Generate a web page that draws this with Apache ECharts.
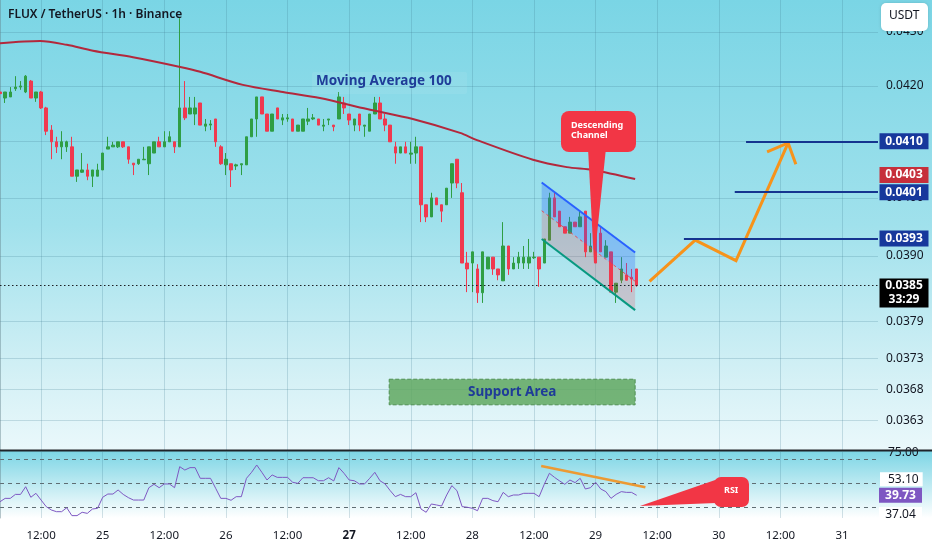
<!DOCTYPE html>
<html><head><meta charset="utf-8">
<script src="https://cdn.jsdelivr.net/npm/echarts@6/dist/echarts.min.js"></script>
<style>html,body{margin:0;padding:0;background:#fff}#c{width:932px;height:550px}</style>
</head><body><div id="c"></div><script>
// ---------- data ----------
const opens  = [.04189,.04178,.04180,.04195,.04198,.04189,.04209,.04178,.04189,.04160,.04120,.04099,.04090,.04090,.04090,.04038,.04045,.04049,.04038,.04038,.04049,.04086,.04090,.04090,.04099,.04090,.04061,.04060,.04067,.04060,.04079,.04099,.04090,.04099,.04099,.04090,.04160,.04149,.04149,.04169,.04127,.04129,.04140,.04090,.04058,.04060,.04056,.04058,.04058,.04108,.04140,.04180,.04149,.04118,.04160,.04138,.04140,.04140,.04118,.04118,.04136,.04140,.04140,.04127,.04138,.04129,.04140,.04169,.04149,.04129,.04149,.04127,.04118,.04149,.04169,.04140,.04129,.04090,.04079,.04090,.04077,.04079,.04090,.03988,.03967,.04000,.03988,.03988,.04026,.04068,.04009,.03888,.03888,.03878,.03838,.03878,.03898,.03878,.03858,.03917,.03878,.03888,.03888,.03888,.03897,.03898,.03888,.03927,.04000,.03977,.03950,.03939,.03958,.03950,.03977,.03907,.03950,.03939,.03898,.03907,.03839,.03859,.03868,.03864,.03878];
const closes = [.04186,.04189,.04189,.04198,.04200,.04218,.04178,.04189,.04160,.04118,.04099,.04090,.04099,.04099,.04038,.04049,.04049,.04038,.04049,.04049,.04079,.04090,.04093,.04099,.04090,.04068,.04058,.04068,.04068,.04090,.04099,.04090,.04099,.04108,.04090,.04160,.04142,.04160,.04160,.04129,.04131,.04131,.04099,.04060,.04068,.04049,.04058,.04060,.04108,.04140,.04180,.04149,.04118,.04149,.04140,.04142,.04142,.04118,.04129,.04140,.04140,.04142,.04129,.04129,.04140,.04126,.04180,.04160,.04138,.04140,.04129,.04129,.04149,.04169,.04140,.04129,.04099,.04079,.04090,.04079,.04079,.04090,.03988,.03967,.04000,.03988,.03977,.04017,.04060,.04026,.03888,.03878,.03907,.03838,.03907,.03898,.03878,.03868,.03917,.03878,.03888,.03898,.03898,.03898,.03898,.03878,.03929,.04000,.03967,.03950,.03939,.03958,.03950,.03967,.03907,.03917,.03888,.03907,.03917,.03839,.03854,.03878,.03859,.03861,.03850];
const lows   = [.04178,.04169,.04180,.04191,.04193,.04187,.04178,.04171,.04158,.04111,.04068,.04079,.04068,.04081,.04038,.04028,.04044,.04031,.04019,.04038,.04049,.04086,.04090,.04088,.04088,.04060,.04040,.04058,.04067,.04040,.04079,.04090,.04090,.04099,.04079,.04090,.04138,.04149,.04129,.04129,.04118,.04120,.04090,.04058,.04040,.04019,.04049,.04040,.04058,.04108,.04108,.04149,.04118,.04118,.04140,.04129,.04135,.04118,.04118,.04118,.04129,.04138,.04129,.04118,.04129,.04118,.04140,.04149,.04129,.04118,.04118,.04108,.04118,.04149,.04140,.04118,.04099,.04060,.04079,.04079,.04060,.04060,.03958,.03958,.03967,.03988,.03958,.03988,.04000,.04017,.03888,.03839,.03839,.03821,.03821,.03878,.03868,.03859,.03858,.03868,.03878,.03878,.03878,.03878,.03895,.03848,.03888,.03927,.03967,.03950,.03939,.03939,.03950,.03950,.03898,.03907,.03888,.03907,.03898,.03839,.03821,.03854,.03859,.03839,.03848];
const highs  = [.04189,.04189,.04198,.04218,.04209,.04220,.04211,.04189,.04191,.04162,.04129,.04108,.04118,.04101,.04108,.04049,.04079,.04060,.04049,.04060,.04079,.04108,.04099,.04099,.04099,.04090,.04061,.04068,.04090,.04090,.04099,.04108,.04118,.04118,.04099,.04326,.04209,.04180,.04180,.04169,.04140,.04138,.04140,.04093,.04079,.04060,.04060,.04060,.04108,.04140,.04180,.04180,.04149,.04149,.04160,.04149,.04149,.04140,.04129,.04140,.04160,.04149,.04140,.04140,.04140,.04129,.04189,.04180,.04149,.04140,.04149,.04129,.04149,.04180,.04180,.04149,.04129,.04099,.04090,.04099,.04099,.04108,.04090,.03988,.04009,.04000,.03988,.04017,.04060,.04068,.04026,.03907,.03907,.03886,.03907,.03898,.03898,.03878,.03958,.03917,.03898,.03907,.03917,.03929,.03907,.03898,.03929,.04009,.04009,.03977,.03950,.03967,.03958,.03977,.03977,.03939,.03950,.03950,.03927,.03907,.03854,.03898,.03888,.03878,.03878];
const rsiValues = [34.4,37.2,37.2,40.5,40.5,46.9,38.1,41.4,35.8,30.3,27.5,26.1,26.1,29.4,22.8,22.8,25.6,24.7,28.3,28.9,38.1,40.8,40.8,44.2,40.5,37.8,35.8,35.8,35.8,46.1,48.9,46.1,49.2,49.2,46.1,63.6,60.8,62.8,62.8,53.9,53.9,53.9,45.6,37.2,37.2,35.6,38.6,38.6,53.9,58.9,65.0,58.9,52.5,56.7,54.7,54.7,54.7,50.6,49.7,54.4,54.4,54.4,51.9,51.9,54.4,51.7,62.8,58.1,52.5,51.9,49.2,49.2,53.9,58.9,51.9,49.2,43.6,38.6,40.5,38.6,38.6,41.9,28.3,25.6,32.5,31.7,30.8,40.0,47.8,43.6,30.3,29.8,28.9,26.9,37.2,37.2,35.3,34.4,42.2,38.6,40.0,40.0,41.4,41.4,41.4,38.6,48.9,58.1,54.7,51.7,48.9,52.5,50.3,53.9,45.0,46.1,50.6,45.0,42.8,37.2,40.5,42.8,42.2,42.2,39.73];
// Moving Average 100, read at points: [bar position, price]
const maPoints = [[0,.04279],[7.8,.04283],[13,.04276],[18.1,.04265],[25.9,.04253],[35.1,.04235],[39,.04226],[47.3,.04202],[55.1,.04189],[62.3,.04178],[71.5,.04158],[80.4,.04140],[89.6,.04115],[92.9,.04102],[103.8,.04067],[110.4,.04054],[115.5,.04049],[123.7,.04033]];
const maLastLabel = '0.0403';
// drawings (bar position, price)
const channelTop = [[105.5,.04027],[123.7,.03906]];
const channelBottom = [[105.5,.03929],[123.7,.03809]];
const projectionPath = [[126.5,.03857],[135.4,.03927],[143.35,.03892],[153.5,.04097]];
const arrowHead = [[149.4,.04081],[153.5,.04097],[155.0,.04059]];
const levelPrices = [0.0410, 0.0401, 0.0393];
const levelStarts = [145.3, 143.1, 133.2];
const supportArea = [[75.8,.03696],[123.7,.03655]];
const lastPrice = 0.0385;
const countdown = '33:29';
const rsiTrend = [[105.4,64.2],[125.7,46.4]];
const rsiSideValue = 37.04;
// axes
const priceTicks = [0.0363,0.0368,0.0373,0.0379,0.0390,0.0400,0.0410,0.0420,0.0430];
const rsiBands = [30,50,70];
const rsiAxisLabels = [75, 53.1];
const categories = [];
for (let i = 0; i < 172; i++) {
  const t = 4 + i;
  categories.push((24 + Math.floor(t / 24)) + ' ' + String(t % 24).padStart(2, '0') + ':00');
}
const LAST = categories.length - 1;

// ---------- chart ----------
const FONT = '"Noto Sans", Roboto, sans-serif';
const TXT = '#131722';
const GRIDC = 'rgba(60,120,140,0.22)';
const candleData = opens.map((o, i) => [o, closes[i], lows[i], highs[i]]);
const isTimeTick = (i, v) => /(00|12):00$/.test(v);
function timeLabel(v) {
  const parts = v.split(' ');
  if (parts[1] === '00:00') return parts[0] === '27' ? '{b|27}' : parts[0];
  return parts[1];
}
const chart = echarts.init(document.getElementById('c'));
const G = echarts.graphic;
const mainBg = new G.LinearGradient(0,0,0,1,[{offset:0,color:'#7ad5e5'},{offset:0.5,color:'#a0e1ec'},{offset:0.85,color:'#d6f1f6'},{offset:1,color:'#eaf8fb'}]);
const rsiBg = new G.LinearGradient(0,0,0,1,[{offset:0,color:'#7cd5e5'},{offset:0.55,color:'#c4ecf3'},{offset:1,color:'#ffffff'}]);

function renderDrawings(params, api) {
  const c = p => api.coord(p);
  const tl = c(channelTop[0]), tr = c(channelTop[1]);
  const bl = c(channelBottom[0]), br = c(channelBottom[1]);
  const ml = [(tl[0]+bl[0])/2, (tl[1]+bl[1])/2];
  const mr = [(tr[0]+br[0])/2, (tr[1]+br[1])/2];
  return {type:'group', children:[
    {type:'polygon', shape:{points:[tl,tr,mr,ml]}, style:{fill:'rgba(41,98,255,0.28)'}},
    {type:'polygon', shape:{points:[ml,mr,br,bl]}, style:{fill:'rgba(242,54,69,0.2)'}},
    {type:'line', shape:{x1:ml[0],y1:ml[1],x2:mr[0],y2:mr[1]}, style:{stroke:'rgba(242,54,69,0.85)',lineWidth:1,lineDash:[3,3]}},
    {type:'line', shape:{x1:tl[0],y1:tl[1],x2:tr[0],y2:tr[1]}, style:{stroke:'#2962ff',lineWidth:2}},
    {type:'line', shape:{x1:bl[0],y1:bl[1],x2:br[0],y2:br[1]}, style:{stroke:'#089981',lineWidth:2}},
    {type:'polyline', shape:{points:projectionPath.map(c)}, style:{stroke:'#f7931a',lineWidth:3,fill:'none',lineJoin:'miter'}},
    {type:'polyline', shape:{points:arrowHead.map(c)}, style:{stroke:'#f7931a',lineWidth:3,fill:'none'}}
  ]};
}
function renderRsiTrend(params, api) {
  const a = api.coord(rsiTrend[0]), b = api.coord(rsiTrend[1]);
  return {type:'line', shape:{x1:a[0],y1:a[1],x2:b[0],y2:b[1]}, style:{stroke:'#ec9a33',lineWidth:2.5}};
}
const boxLabel = {show:true, position:'inside', color:'#fff', fontSize:12, fontWeight:'bold', fontFamily:FONT, formatter:p=>p.name};

const option = {
  animation:false,
  textStyle:{fontFamily:FONT},
  grid:[
    {left:0, right:54, top:0, height:450},
    {left:0, right:54, top:452, height:66}
  ],
  xAxis:[
    {type:'category', gridIndex:0, data:categories, boundaryGap:false,
     axisLine:{show:false}, axisTick:{show:false}, axisLabel:{show:false},
     splitLine:{show:true, interval:isTimeTick, lineStyle:{color:GRIDC}}},
    {type:'value', gridIndex:0, min:0, max:LAST, show:false},
    {type:'category', gridIndex:1, data:categories, boundaryGap:false,
     axisLine:{show:false}, axisTick:{show:false},
     axisLabel:{interval:isTimeTick, formatter:timeLabel, color:TXT, fontSize:11.5, margin:12,
       rich:{b:{fontWeight:'bold', fontSize:11.5, color:TXT}}},
     splitLine:{show:true, interval:isTimeTick, lineStyle:{color:GRIDC}}},
    {type:'value', gridIndex:1, min:0, max:LAST, show:false}
  ],
  yAxis:[
    {type:'log', logBase:10, gridIndex:0, position:'right', min:0.035837, max:0.043604,
     axisLine:{show:true, lineStyle:{color:'rgba(100,130,140,0.45)'}},
     axisTick:{show:false, customValues:priceTicks},
     axisLabel:{customValues:priceTicks, formatter:v=>v.toFixed(4), color:TXT, fontSize:12, margin:8},
     splitLine:{show:true, lineStyle:{color:GRIDC}}},
    {type:'value', gridIndex:1, position:'right', min:20.833, max:75.833,
     axisLine:{show:true, lineStyle:{color:'rgba(100,130,140,0.45)'}},
     axisTick:{show:false, customValues:rsiBands},
     axisLabel:{customValues:rsiAxisLabels, margin:2,
       formatter:v=> v === 75 ? '{p|' + v.toFixed(2) + '}' : '{w|' + v.toFixed(2) + '}',
       rich:{p:{color:TXT, fontSize:12, padding:[1,4,1,8]},
             w:{color:TXT, fontSize:12, padding:[1,4,1,8], backgroundColor:'#ffffff'}}},
     splitLine:{show:true, lineStyle:{color:'#5f6d73', type:[4,4], width:1}}}
  ],
  series:[
    {type:'candlestick', xAxisIndex:0, yAxisIndex:0, data:candleData, barWidth:3, z:3,
     itemStyle:{color:'#2f9e44', color0:'#f0394f', borderColor:'#2f9e44', borderColor0:'#f0394f', borderWidth:1}},
    {type:'custom', xAxisIndex:1, yAxisIndex:0, data:[[0,0.04]], renderItem:renderDrawings, z:4, silent:true},
    {type:'line', xAxisIndex:1, yAxisIndex:0, data:maPoints, smooth:0.3, showSymbol:false, z:5, silent:true,
     lineStyle:{color:'#b3283c', width:2},
     markArea:{silent:true, itemStyle:{color:'rgba(96,168,96,0.85)', borderColor:'#4f8f52', borderWidth:1, borderType:'dashed'},
       label:{show:true, position:'inside', color:'#1f3c98', fontSize:13.5, fontWeight:'bold', fontFamily:FONT},
       data:[[{name:'Support Area', coord:supportArea[0]}, {coord:supportArea[1]}]]},
     markLine:{silent:true, symbol:['none','none'], label:{show:false},
       data: levelPrices.map((v,i)=>[{coord:[levelStarts[i], v], lineStyle:{color:'#15348f', width:2, type:'solid'}}, {coord:[LAST, v]}])
         .concat([[{coord:[0,lastPrice], lineStyle:{color:'#1b1f24', width:1, type:[1.5,2.5]}}, {coord:[LAST,lastPrice]}]])},
     markPoint:{silent:true, symbol:'rect', symbolSize:[49,16], label:boxLabel,
       data: levelPrices.map(v=>({name:v.toFixed(4), coord:[LAST, v], symbolOffset:[26,0], itemStyle:{color:'#17389c'}}))
         .concat([
           {name:maLastLabel, coord:[LAST, maPoints[maPoints.length-1][1]], symbolOffset:[26,-4], itemStyle:{color:'#c62f3b'}},
           {name:lastPrice.toFixed(4)+'\n'+countdown, coord:[LAST, lastPrice], symbolSize:[49,29], symbolOffset:[26,7.5],
            itemStyle:{color:'#000000'}, label:{lineHeight:14, fontWeight:'bold'}}
         ])}},
    {type:'line', xAxisIndex:2, yAxisIndex:1, data:rsiValues, showSymbol:false, z:5, silent:true,
     lineStyle:{color:'#7e57c2', width:1},
     markPoint:{silent:true, symbol:'rect', symbolSize:[43,15], label:boxLabel,
       data:[
         {name:rsiValues[rsiValues.length-1].toFixed(2), coord:[LAST, rsiValues[rsiValues.length-1]], symbolOffset:[22.5,0], itemStyle:{color:'#7e57c2'}},
         {name:rsiSideValue.toFixed(2), coord:[LAST, rsiSideValue], symbolOffset:[22.5,16], itemStyle:{color:'#ffffff'}, label:{color:TXT, fontWeight:'normal'}}
       ]}},
    {type:'custom', xAxisIndex:3, yAxisIndex:1, data:[[0,50]], renderItem:renderRsiTrend, z:6, silent:true}
  ],
  graphic:[
    {type:'rect', z:-100, silent:true, shape:{x:0,y:0,width:932,height:450}, style:{fill:mainBg}},
    {type:'rect', z:-100, silent:true, shape:{x:0,y:451,width:932,height:67}, style:{fill:rsiBg}},
    {type:'rect', z:50, silent:true, shape:{x:0,y:449.5,width:932,height:2}, style:{fill:'#1e2329'}},
    {type:'text', z:50, left:8, top:9, style:{text:'FLUX / TetherUS · 1h · Binance', fill:TXT, font:'600 12px ' + FONT}},
    {type:'rect', z:49, silent:true, shape:{x:312,y:72,width:155,height:22,r:2}, style:{fill:'rgba(255,255,255,0.07)'}},
    {type:'text', z:50, left:316, top:74, style:{text:'Moving Average 100', fill:'#1f3c98', font:'bold 13.5px ' + FONT}},
    {type:'rect', z:60, shape:{x:881,y:3,width:47,height:28,r:5}, style:{fill:'#ffffff', shadowBlur:3, shadowColor:'rgba(0,0,0,0.15)'}},
    {type:'text', z:61, left:889, top:10, style:{text:'USDT', fill:TXT, font:'12px ' + FONT}},
    {type:'polygon', z:60, shape:{points:[[588,148],[606,148],[594,263]]}, style:{fill:'#f23645'}},
    {type:'rect', z:60, shape:{x:561,y:111,width:75,height:41,r:8}, style:{fill:'#f23645'}},
    {type:'text', z:61, left:571, top:120, style:{text:'Descending\nChannel', fill:'#ffffff', font:'bold 9px ' + FONT, lineHeight:10}},
    {type:'polygon', z:60, shape:{points:[[640,506],[721,478],[716,503]]}, style:{fill:'#f23645'}},
    {type:'rect', z:60, shape:{x:714,y:477,width:35,height:30,r:7}, style:{fill:'#f23645'}},
    {type:'text', z:61, left:724, top:486, style:{text:'RSI', fill:'#ffffff', font:'bold 9px ' + FONT}}
  ]
};
chart.setOption(option);
</script></body></html>
